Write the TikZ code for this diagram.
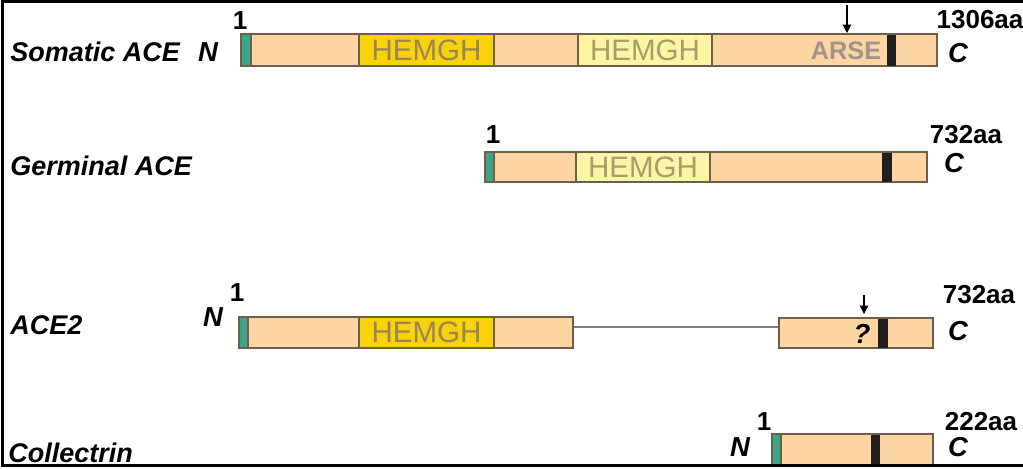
\documentclass[tikz,border=0pt]{standalone}
\usepackage{fontspec}
\setmainfont{Liberation Sans}
\usetikzlibrary{fit,arrows.meta}
\definecolor{peach}{HTML}{FCD5A2}
\definecolor{gold}{HTML}{F7D308}
\definecolor{pale}{HTML}{FDF5A6}
\definecolor{tealg}{HTML}{3AA687}
\definecolor{edgec}{HTML}{6E5E4A}
\definecolor{dtxt}{HTML}{9B8555}
\definecolor{ptxt}{HTML}{A39E6A}
\definecolor{atxt}{HTML}{A3938A}
\begin{document}
\begin{tikzpicture}[x=0.025cm,y=-0.025cm,
  bar/.style={draw=edgec, fill=peach, line width=0.8pt, inner sep=0pt},
  gdom/.style={bar, fill=gold},
  pdom/.style={bar, fill=pale},
  sig/.style={bar, fill=tealg},
  tm/.style={fill=black!88, draw=none, inner sep=0pt},
  rowlab/.style={font=\fontsize{19.2}{19.2}\selectfont\bfseries\itshape, anchor=west, inner sep=0pt},
  term/.style={font=\fontsize{19.5}{19.5}\selectfont\bfseries\itshape, inner sep=0pt},
  num/.style={font=\fontsize{18.5}{18.5}\selectfont\bfseries, inner sep=0pt},
  hem/.style={font=\fontsize{21}{21}\selectfont, inner sep=0pt},
  arse/.style={font=\fontsize{18}{18}\selectfont\bfseries, text=atxt, inner sep=0pt},
  cut/.style={-{Triangle[length=6pt,width=6pt]}, line width=0.8pt},
  link/.style={draw=edgec!80, line width=1pt},
  frame/.style={line width=2.2pt, black}
]
\useasboundingbox (0,0) rectangle (1023,469);

% ---------- frame ----------
\coordinate (f1) at (1023,1.5);
\coordinate (f2) at (2.5,1.5);
\coordinate (f3) at (2.5,465.5);
\coordinate (f4) at (1023,465.5);
\draw[frame] (f1) -- (f2) -- (f3) -- (f4);

% ---------- Somatic ACE ----------
\node[rowlab] (lsom) at (10,52) {Somatic ACE};
\node[term] (nsom) at (208,52) {N};
\node[num] (osom) at (240,21) {1};
\node[bar, fit={(241,34) (937,66)}] (bsom) {};
\node[sig, fit={(241,34) (251,66)}] (ssom) {};
\node[gdom, fit={(359,34) (494,66)}] (h1som) {};
\node[hem, text=dtxt] at (h1som.center) {HEMGH};
\node[pdom, fit={(578,34) (712,66)}] (h2som) {};
\node[hem, text=ptxt] at (h2som.center) {HEMGH};
\node[arse] (asom) at (846,51) {ARSE};
\node[tm, fit={(887,34.5) (896,65.5)}] (tsom) {};
\coordinate (csomtop) at (847,5);
\coordinate (csombot) at (847,33);
\draw[cut] (csomtop) -- (csombot);
\node[num] (esom) at (980,20) {1306aa};
\node[term] (csom) at (958,53) {C};

% ---------- Germinal ACE ----------
\node[rowlab] (lger) at (10,166) {Germinal ACE};
\node[num] (oger) at (493,135) {1};
\node[bar, fit={(485,152) (927,182)}] (bger) {};
\node[sig, fit={(485,152) (494,182)}] (sger) {};
\node[pdom, fit={(576,152) (710,182)}] (hger) {};
\node[hem, text=ptxt] at (hger.center) {HEMGH};
\node[tm, fit={(882,152.5) (892,181.5)}] (tger) {};
\node[num] (eger) at (966,135) {732aa};
\node[term] (cger) at (954,163) {C};

% ---------- ACE2 ----------
\node[rowlab] (lace) at (10,325) {ACE2};
\node[term] (nace) at (213,317) {N};
\node[num] (oace) at (237,293) {1};
\node[bar, fit={(239,317) (573,348)}] (b1ace) {};
\node[sig, fit={(239,317) (248,348)}] (sace) {};
\node[gdom, fit={(359,317) (494,348)}] (hace) {};
\node[hem, text=dtxt] at (hace.center) {HEMGH};
\node[bar, fit={(779,318) (933,348)}] (b2ace) {};
\draw[link] (b1ace.east |- 0,327) -- (b2ace.west |- 0,327);
\node[term] (qace) at (862,334) {?};
\node[tm, fit={(878,318.5) (888,347.5)}] (tace) {};
\coordinate (cacetop) at (864,295);
\coordinate (cacebot) at (864,314);
\draw[cut] (cacetop) -- (cacebot);
\node[num] (eace) at (979,295) {732aa};
\node[term] (cace) at (958,331) {C};

% ---------- Collectrin ----------
\node[rowlab] (lcol) at (8,453) {Collectrin};
\node[term] (ncol) at (740,447) {N};
\node[num] (ocol) at (764,422) {1};
\node[bar, fit={(772,434) (933,466)}] (bcol) {};
\node[sig, fit={(772,434) (781,466)}] (scol) {};
\node[tm, fit={(871,434.5) (880,465)}] (tcol) {};
\node[num] (ecol) at (981,422) {222aa};
\node[term] (ccol) at (958,447) {C};

% bottom frame line drawn on top
\draw[frame] (f3) -- (f4);
\end{tikzpicture}
\end{document}
